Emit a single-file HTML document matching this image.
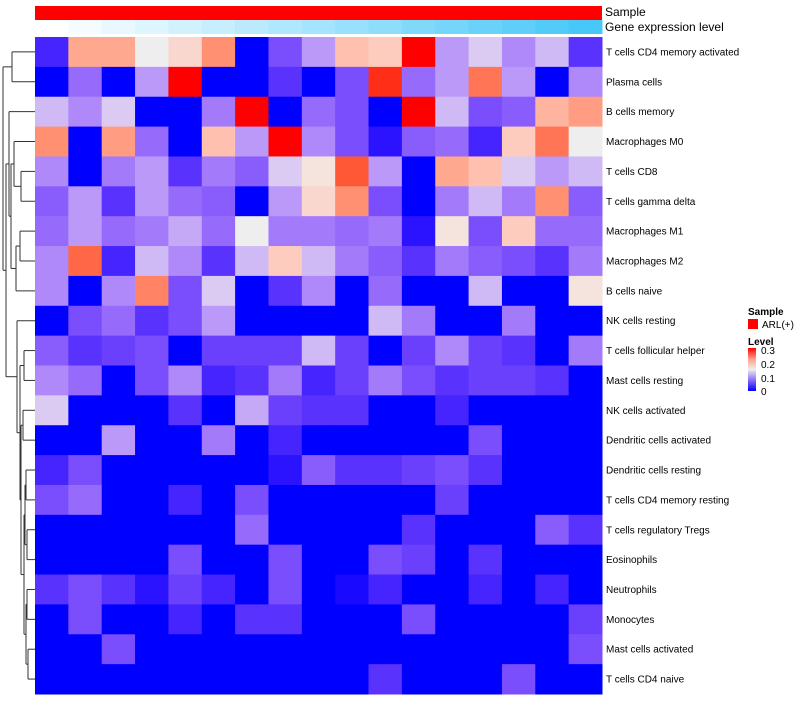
<!DOCTYPE html>
<html><head><meta charset="utf-8"><style>
body{margin:0;background:#fff;font-family:"Liberation Sans",sans-serif}
</style></head><body>
<svg id="chart" width="800" height="700" xmlns="http://www.w3.org/2000/svg" font-family="Liberation Sans, sans-serif">
<g id="dendro" stroke="#333" stroke-width="1" fill="none"></g>
<g id="anno"></g>
<g id="cells"></g>
<g id="labels" font-size="10" fill="#000" style="white-space:pre"></g>
<text x="605" y="16" font-size="12">Sample</text>
<text x="605" y="31" font-size="12">Gene expression level</text>
<g font-size="10">
<text x="748" y="315" font-weight="bold">Sample</text>
<rect x="748" y="319" width="10" height="10" fill="#ff0000"/>
<text x="762" y="328">ARL(+)</text>
<text x="748" y="345" font-weight="bold">Level</text>
<defs><linearGradient id="lg" x1="0" y1="1" x2="0" y2="0"><stop offset="0" stop-color="#0000ff"/><stop offset="0.25" stop-color="#8a6cf7"/><stop offset="0.5" stop-color="#eeeeee"/><stop offset="0.75" stop-color="#ff9d8a"/><stop offset="1" stop-color="#ff0000"/></linearGradient></defs>
<rect x="748" y="348" width="8" height="43" fill="url(#lg)"/>
<text x="761" y="354">0.3</text>
<text x="761" y="368">0.2</text>
<text x="761" y="382">0.1</text>
<text x="761" y="395">0</text>
</g>
</svg>
<script>
const rowNames=["T cells CD4 memory activated","Plasma cells","B cells memory","Macrophages M0","T cells CD8","T cells gamma delta","Macrophages M1","Macrophages M2","B cells naive","NK cells resting","T cells follicular helper","Mast cells resting","NK cells activated","Dendritic cells activated","Dendritic cells resting","T cells CD4 memory resting","T cells regulatory  Tregs","Eosinophils","Neutrophils","Monocytes","Mast cells activated","T cells CD4 naive"];
const geneLevel=[0,1,2,3,4,5,6,7,8,9,10,11,12,13,14,15,16];
const values=[
[.02,.21,.21,.15,.17,.23,0,.05,.1,.19,.18,.3,.1,.13,.09,.12,.03],
[0,.07,0,.1,.3,0,0,.03,0,.05,.29,.07,.1,.25,.1,0,.09],
[.12,.09,.13,0,0,.08,.3,0,.07,.05,0,.3,.12,.05,.06,.2,.22],
[.23,0,.22,.07,0,.19,.1,.3,.09,.05,.01,.06,.07,.02,.18,.25,.15],
[.09,0,.08,.1,.03,.08,.06,.13,.16,.27,.1,0,.21,.19,.13,.1,.12],
[.06,.1,.03,.1,.07,.06,0,.1,.17,.23,.05,0,.08,.12,.08,.23,.06],
[.07,.1,.07,.08,.11,.07,.15,.08,.08,.07,.08,.01,.16,.05,.18,.07,.07],
[.09,.26,.02,.12,.09,.03,.12,.18,.12,.08,.06,.03,.08,.06,.05,.03,.08],
[.09,0,.09,.24,.05,.13,0,.03,.09,0,.07,0,0,.12,0,0,.16],
[0,.05,.07,.03,.05,.1,0,0,0,0,.12,.08,0,0,.08,0,0],
[.06,.03,.04,.05,0,.04,.04,.04,.12,.04,0,.04,.09,.04,.03,0,.08],
[.09,.07,0,.05,.09,.02,.03,.08,.02,.04,.08,.05,.03,.04,.04,.03,0],
[.13,0,0,0,.03,0,.11,.04,.03,.03,0,0,.02,0,0,0,0],
[0,0,.1,0,0,.08,0,.02,0,0,0,0,0,.05,0,0,0],
[.02,.05,0,0,0,0,0,.01,.06,.03,.03,.04,.05,.03,0,0,0],
[.05,.07,0,0,.02,0,.05,0,0,0,0,0,.04,0,0,0,0],
[0,0,0,0,0,0,.07,0,0,0,0,.03,0,0,0,.06,.03],
[0,0,0,0,.05,0,0,.05,0,0,.05,.04,0,.03,0,0,0],
[.03,.05,.03,.01,.04,.02,0,.05,0,.005,.02,0,0,.02,0,.02,0],
[0,.05,0,0,.02,0,.03,.03,0,0,0,.05,0,0,0,0,.04],
[0,0,.05,0,0,0,0,0,0,0,0,0,0,0,0,0,.05],
[0,0,0,0,0,0,0,0,0,0,.03,0,0,0,.05,0,0]];
const NS="http://www.w3.org/2000/svg";
const X0=35,X1=602,Y0=37,Y1=694;
const nC=values[0].length,nR=values.length,cw=(X1-X0)/nC,rh=(Y1-Y0)/nR;
const xS=j=>X0+j*cw, yS=i=>Y0+i*rh;
function toLab(r,g,b){const f=c=>{c/=255;return c<=0.04045?c/12.92:Math.pow((c+0.055)/1.055,2.4)};r=f(r);g=f(g);b=f(b);
let x=(r*0.4124+g*0.3576+b*0.1805)/0.95047,y=r*0.2126+g*0.7152+b*0.0722,z=(r*0.0193+g*0.1192+b*0.9505)/1.08883;
const h=t=>t>0.008856?Math.cbrt(t):7.787*t+16/116;x=h(x);y=h(y);z=h(z);return[116*y-16,500*(x-y),200*(y-z)];}
function fromLab(L,a,bb){let y=(L+16)/116,x=a/500+y,z=y-bb/200;const h=t=>t*t*t>0.008856?t*t*t:(t-16/116)/7.787;
x=h(x)*0.95047;y=h(y);z=h(z)*1.08883;let r=x*3.2406+y*-1.5372+z*-0.4986,g=x*-0.9689+y*1.8758+z*0.0415,b=x*0.0557+y*-0.2040+z*1.0570;
const f=c=>{c=c>0.0031308?1.055*Math.pow(c,1/2.4)-0.055:12.92*c;return Math.round(Math.max(0,Math.min(1,c))*255)};return`rgb(${f(r)},${f(g)},${f(b)})`;}
const cB=toLab(0,0,255),cW=toLab(238,238,238),cR=toLab(255,0,0);
function col(v){v=Math.max(0,Math.min(0.3,v));let a,b,t;if(v<0.15){a=cB;b=cW;t=Math.pow(v/0.15,1.25)}else{a=cW;b=cR;t=(v-0.15)/0.15}
return fromLab(a[0]+(b[0]-a[0])*t,a[1]+(b[1]-a[1])*t,a[2]+(b[2]-a[2])*t);}
const cells=document.getElementById('cells');
values.forEach((row,i)=>row.forEach((v,j)=>{const r=document.createElementNS(NS,'rect');
r.setAttribute('x',xS(j));r.setAttribute('y',yS(i));r.setAttribute('width',cw+0.5);r.setAttribute('height',rh+0.5);r.setAttribute('fill',col(v));


cells.appendChild(r);}));
const labels=document.getElementById('labels');
rowNames.forEach((n,i)=>{const t=document.createElementNS(NS,'text');t.setAttribute('x',606);t.setAttribute('y',yS(i)+rh/2+3.5);t.textContent=n;


labels.appendChild(t);});
const anno=document.getElementById('anno');
const sr=document.createElementNS(NS,'rect');sr.setAttribute('x',X0);sr.setAttribute('y',6);sr.setAttribute('width',X1-X0);sr.setAttribute('height',14);sr.setAttribute('fill','#ff0000');


anno.appendChild(sr);
const gmax=Math.max(...geneLevel);
geneLevel.forEach((g,j)=>{const t=g/gmax;const r=document.createElementNS(NS,'rect');
const c=`rgb(${Math.round(255+(72-255)*t)},${Math.round(255+(200-255)*t)},${Math.round(255+(248-255)*t)})`;
r.setAttribute('x',xS(j));r.setAttribute('y',20);r.setAttribute('width',cw+0.5);r.setAttribute('height',14);r.setAttribute('fill',c);


anno.appendChild(r);});
const dg=document.getElementById('dendro');
const yc=i=>yS(i)+rh/2;
function node(l,r,x){return{l,r,x}}
function leaf(i){return{leaf:i}}
const T=node(node(leaf(0),leaf(1),12),
 node(node(leaf(2),node(node(leaf(3),node(leaf(4),leaf(5),21),14),node(node(leaf(6),leaf(7),20),leaf(8),16),11),9),
  node(leaf(9),node(node(leaf(10),leaf(11),24),node(node(leaf(12),leaf(13),23),node(node(node(leaf(14),leaf(15),26),node(leaf(16),leaf(17),27),25),node(node(leaf(18),leaf(19),27),node(leaf(20),leaf(21),28),26),24),21),20),17),6),3);
function line(x1,y1,x2,y2){const l=document.createElementNS(NS,'line');l.setAttribute('x1',x1);l.setAttribute('y1',y1);l.setAttribute('x2',x2);l.setAttribute('y2',y2);


dg.appendChild(l);}
function draw(n){if(n.leaf!==undefined)return{x:35,y:yc(n.leaf)};const a=draw(n.l),b=draw(n.r);
line(n.x,a.y,a.x,a.y);line(n.x,b.y,b.x,b.y);line(n.x,a.y,n.x,b.y);return{x:n.x,y:(a.y+b.y)/2};}
draw(T);
</script>
</body></html>
